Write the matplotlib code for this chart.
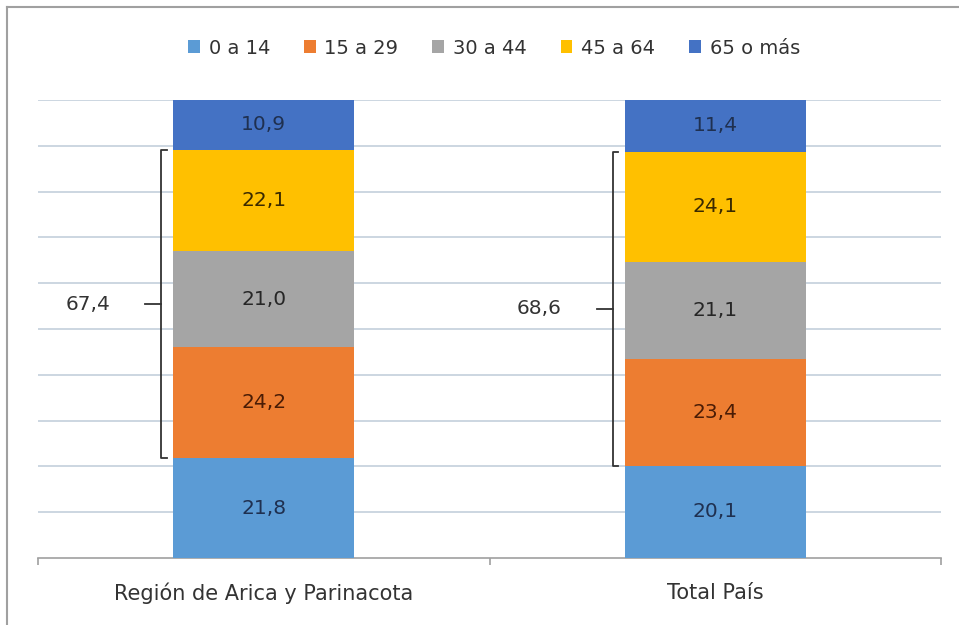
import matplotlib.pyplot as plt
import matplotlib.lines as mlines
import numpy as np

plt.rcParams['font.family'] = ['DejaVu Sans']

# data
categorias = ['Región de Arica y Parinacota', 'Total País']
grupos = ['0 a 14', '15 a 29', '30 a 44', '45 a 64', '65 o más']
valores = [
    [21.8, 20.1],   # 0 a 14
    [24.2, 23.4],   # 15 a 29
    [21.0, 21.1],   # 30 a 44
    [22.1, 24.1],   # 45 a 64
    [10.9, 11.4],   # 65 o más
]
total_15_64 = [67.4, 68.6]

colores = ['#5B9BD5', '#ED7D31', '#A5A5A5', '#FFC000', '#4472C4']
color_texto = ['#1F3050', '#4A1C05', '#262626', '#3A2A00', '#1F3050']


def fmt(v):
    return f'{v:.1f}'.replace('.', ',')


def plot_chart():
    fig = plt.figure(figsize=(9.59, 6.25), dpi=100)
    ax = fig.add_axes([38 / 959, 1 - 558 / 625, (941 - 38) / 959, (558 - 100) / 625])

    x = np.arange(len(categorias))
    ancho = 0.4
    base = np.zeros(len(categorias))
    for i, g in enumerate(grupos):
        vals = np.array(valores[i])
        ax.bar(x, vals, ancho, bottom=base, color=colores[i], label=g, zorder=3)
        for j in range(len(x)):
            ax.text(x[j], base[j] + vals[j] / 2, fmt(vals[j]), ha='center', va='center',
                    fontsize=14.5, color=color_texto[i], zorder=4)
        base = base + vals

    # llaves para 15 a 64
    for j in range(len(x)):
        y0 = valores[0][j]
        y1 = y0 + valores[1][j] + valores[2][j] + valores[3][j]
        xb = x[j] - ancho / 2 - 0.027
        ax.plot([xb + 0.012, xb, xb, xb + 0.012], [y0, y0, y1, y1], color='#333333', lw=1.3, zorder=4)
        ym = (y0 + y1) / 2
        ax.plot([xb - 0.035, xb], [ym, ym], color='#333333', lw=1.3, zorder=4)
        ax.text(xb - 0.163, ym, fmt(total_15_64[j]), ha='center', va='center', fontsize=14.5, color='#333333')

    ax.set_xlim(-0.5, 1.5)
    ax.set_ylim(0, 100)
    ax.set_yticks(np.arange(10, 101, 10))
    ax.yaxis.grid(True, color='#C3CFDB', lw=1.2, zorder=0)
    ax.tick_params(axis='y', left=False, labelleft=False)
    for s in ['top', 'right', 'left']:
        ax.spines[s].set_visible(False)
    ax.spines['bottom'].set_color('#A0A0A0')
    ax.spines['bottom'].set_linewidth(1.2)

    ax.set_xticks([-0.5, 0.5, 1.5], minor=False)
    ax.set_xticklabels([])
    ax.tick_params(axis='x', length=5, color='#A0A0A0', width=1.2)
    ax.set_xticks(x, minor=True)
    ax.set_xticklabels(categorias, minor=True, fontsize=15, color='#333333')
    ax.tick_params(axis='x', which='minor', length=0, pad=18)

    handles, labels = ax.get_legend_handles_labels()
    fig.legend(handles, labels, loc='center', bbox_to_anchor=(494 / 959, 1 - 48 / 625), ncol=5,
               frameon=False, fontsize=14, handlelength=0.6, handleheight=0.6,
               handletextpad=0.45, columnspacing=1.75, labelcolor='#333333',
               borderaxespad=0, borderpad=0)

    # marco exterior
    fig.add_artist(mlines.Line2D([7 / 959, 1], [1 - 7 / 625, 1 - 7 / 625], color='#A0A0A0', lw=1.5))
    fig.add_artist(mlines.Line2D([7 / 959, 7 / 959], [0, 1 - 7 / 625], color='#A0A0A0', lw=1.5))

    fig.savefig('out.png', dpi=100)


if __name__ == '__main__':
    plot_chart()
